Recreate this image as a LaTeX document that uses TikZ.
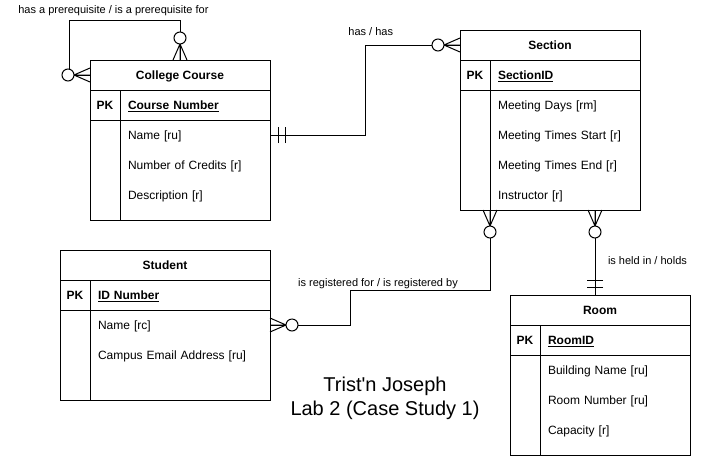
\documentclass[tikz,border=0pt]{standalone}
\usepackage{fontspec}
\newfontfamily\erfont{Liberation Sans}
\usetikzlibrary{positioning,calc}

\begin{document}
\begin{tikzpicture}[
  x=1pt, y=-1pt, line width=1pt,
  every node/.style={outer sep=0pt},
  hdr/.style={font=\erfont\bfseries\fontsize{12}{14}\selectfont,
    text height=10.5pt, text depth=1.5pt},
  cell/.style={draw, inner sep=0pt, minimum height=30pt},
  ttl/.style={cell, hdr},
  keyc/.style={cell, hdr, minimum width=30pt},
  keyn/.style={cell, hdr, inner xsep=8pt, align=left},
  slot/.style={draw, inner sep=0pt},
  att/.style={inner xsep=8pt, inner ysep=0pt, minimum height=30pt, align=left,
    font=\erfont\fontsize{12}{14}\selectfont, text height=10.5pt, text depth=1.5pt},
  lbl/.style={font=\erfont\fontsize{11}{13}\selectfont, inner sep=1pt},
  zmany/.pic={\draw (0,-7) -- (-16,0) -- (0,7) (-16,0) -- (0,0);
              \draw[fill=white] (-22,0) circle[radius=6];},
  one/.pic={\draw (-8,-8) -- (-8,8) (-15,-8) -- (-15,8);},
]
\path[use as bounding box, fill=white] (0,0) rectangle (706,456);

% ---------------- College Course ----------------
\node[ttl, minimum width=180pt, anchor=north west] (course) at (90,60) {College Course};
\node[keyc, anchor=north west] (coursek) at (course.south west) {PK};
\node[keyn, text width=134pt, right=0pt of coursek] (coursepk) {\underline{Course Number}};
\node[slot, minimum width=30pt, minimum height=100pt, below=0pt of coursek] (coursegap) {};
\node[slot, minimum width=150pt, minimum height=100pt, right=0pt of coursegap] (courseatt) {};
\node[att, text width=134pt, anchor=north west] (course1) at (courseatt.north west) {Name [ru]};
\node[att, text width=134pt, below=0pt of course1] (course2) {Number of Credits [r]};
\node[att, text width=134pt, below=0pt of course2] (course3) {Description [r]};

% ---------------- Section ----------------
\node[ttl, minimum width=180pt, anchor=north west] (sec) at (460,30) {Section};
\node[keyc, anchor=north west] (seck) at (sec.south west) {PK};
\node[keyn, text width=134pt, right=0pt of seck] (secpk) {\underline{SectionID}};
\node[slot, minimum width=30pt, minimum height=120pt, below=0pt of seck] (secgap) {};
\node[slot, minimum width=150pt, minimum height=120pt, right=0pt of secgap] (secatt) {};
\node[att, text width=134pt, anchor=north west] (sec1) at (secatt.north west) {Meeting Days [rm]};
\node[att, text width=134pt, below=0pt of sec1] (sec2) {Meeting Times Start [r]};
\node[att, text width=134pt, below=0pt of sec2] (sec3) {Meeting Times End [r]};
\node[att, text width=134pt, below=0pt of sec3] (sec4) {Instructor [r]};

% ---------------- Student ----------------
\node[ttl, minimum width=210pt, anchor=north west] (stud) at (60,250) {Student};
\node[keyc, anchor=north west] (studk) at (stud.south west) {PK};
\node[keyn, text width=164pt, right=0pt of studk] (studpk) {\underline{ID Number}};
\node[slot, minimum width=30pt, minimum height=90pt, below=0pt of studk] (studgap) {};
\node[slot, minimum width=180pt, minimum height=90pt, right=0pt of studgap] (studatt) {};
\node[att, text width=164pt, anchor=north west] (stud1) at (studatt.north west) {Name [rc]};
\node[att, text width=164pt, below=0pt of stud1] (stud2) {Campus Email Address [ru]};

% ---------------- Room ----------------
\node[ttl, minimum width=180pt, anchor=north west] (room) at (510,295) {Room};
\node[keyc, anchor=north west] (roomk) at (room.south west) {PK};
\node[keyn, text width=134pt, right=0pt of roomk] (roompk) {\underline{RoomID}};
\node[slot, minimum width=30pt, minimum height=100pt, below=0pt of roomk] (roomgap) {};
\node[slot, minimum width=150pt, minimum height=100pt, right=0pt of roomgap] (roomatt) {};
\node[att, text width=134pt, anchor=north west] (room1) at (roomatt.north west) {Building Name [ru]};
\node[att, text width=134pt, below=0pt of room1] (room2) {Room Number [ru]};
\node[att, text width=134pt, below=0pt of room2] (room3) {Capacity [r]};

\node[font=\erfont\fontsize{20}{24}\selectfont, align=center] (caption) at (385,398)
  {Trist'n Joseph\\Lab 2 (Case Study 1)};

% ---------------- relationships ----------------
\coordinate (hold) at ($(room.north)+(-5,0)$);

\draw (course.north) -- ++(0,-40)
  -| node[lbl, above=3pt, pos=0.3] (lprereq) {has a prerequisite / is a prerequisite for}
  ($(course.west)+(-21,0)$) -- (course.west);
\draw (course1.east) -- ++(95,0)
  |- node[lbl, above=8pt, pos=0.53] (lhas) {has / has} (sec.west);
\draw (secatt.south west) -- ++(0,80)
  -| node[lbl, above, pos=0.4] (lreg) {is registered for / is registered by}
  ($(stud1.east)+(80,0)$) -- (stud1.east);
\draw (secatt.south -| hold) -- node[lbl, right=12pt, pos=0.6] (lheld) {is held in / holds} (hold);

% end symbols
\pic[rotate=-90] at (course.north) {zmany};
\pic at (course.west) {zmany};
\pic[rotate=180] at (course1.east) {one};
\pic at (sec.west) {zmany};
\pic[rotate=90] at (secatt.south west) {zmany};
\pic[rotate=90] at (secatt.south -| hold) {zmany};
\pic[rotate=180] at (stud1.east) {zmany};
\pic[rotate=-90] at (hold) {one};

\end{tikzpicture}
\end{document}
